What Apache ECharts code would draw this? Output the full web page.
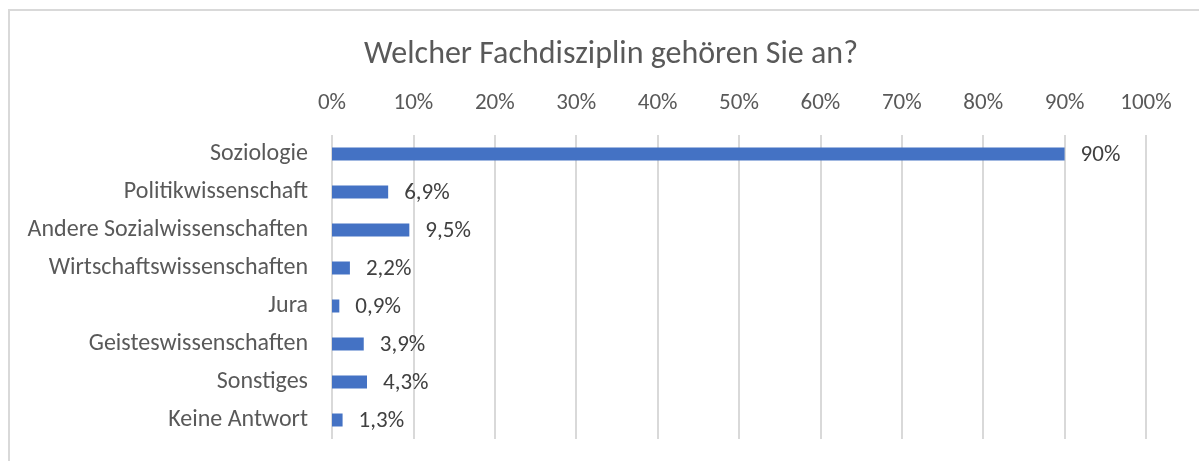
<!DOCTYPE html>
<html>
<head>
<meta charset="utf-8">
<title>Welcher Fachdisziplin gehören Sie an?</title>
<script src="https://cdn.jsdelivr.net/npm/echarts@6/dist/echarts.min.js"></script>
<style>
  html, body { margin: 0; padding: 0; background: #fff; }
  #frame {
    position: absolute; left: 8px; top: 9px; right: 0; bottom: 0;
    border-left: 2px solid #d9d9d9; border-top: 2px solid #d9d9d9;
  }
  #main { position: absolute; left: 0; top: 0; width: 1199px; height: 461px; }
</style>
</head>
<body>
<div id="frame"></div>
<div id="main"></div>
<script>
// Daten
var kategorien = ['Soziologie', 'Politikwissenschaft', 'Andere Sozialwissenschaften',
  'Wirtschaftswissenschaften', 'Jura', 'Geisteswissenschaften', 'Sonstiges', 'Keine Antwort'];
var anteile = [90, 6.9, 9.5, 2.2, 0.9, 3.9, 4.3, 1.3];

var schrift = 'Carlito, Calibri, Lato, sans-serif';
var grau = '#595959';

var chart = echarts.init(document.getElementById('main'));
var option = {
  animation: false,
  title: {
    text: 'Welcher Fachdisziplin gehören Sie an?',
    left: 606,
    textAlign: 'center',
    top: 34,
    textStyle: { fontFamily: schrift, fontSize: 32, fontWeight: 'normal', color: grau }
  },
  grid: { left: 332, right: 53, top: 135, bottom: 22 },
  xAxis: {
    type: 'value',
    position: 'top',
    min: 0,
    max: 100,
    interval: 10,
    axisLine: { show: false },
    axisTick: { show: false },
    axisLabel: {
      formatter: '{value}%',
      margin: 20,
      fontFamily: schrift,
      fontSize: 23,
      color: grau
    },
    splitLine: { lineStyle: { color: '#d9d9d9', width: 2 } }
  },
  yAxis: {
    type: 'category',
    inverse: true,
    data: kategorien,
    axisLine: { show: false },
    axisTick: { show: false },
    axisLabel: { margin: 24, fontFamily: schrift, fontSize: 24, color: grau }
  },
  series: [{
    type: 'bar',
    data: anteile,
    barWidth: 13,
    itemStyle: { color: '#4472c4' },
    label: {
      show: true,
      position: 'right',
      distance: 16,
      offset: [0, 1],
      fontFamily: schrift,
      fontSize: 23,
      color: '#404040',
      formatter: function (p) {
        return String(p.value).replace('.', ',') + '%';
      }
    }
  }]
};
chart.setOption(option);
window.onresize = function () {
  chart.resize();
};
</script>
</body>
</html>
